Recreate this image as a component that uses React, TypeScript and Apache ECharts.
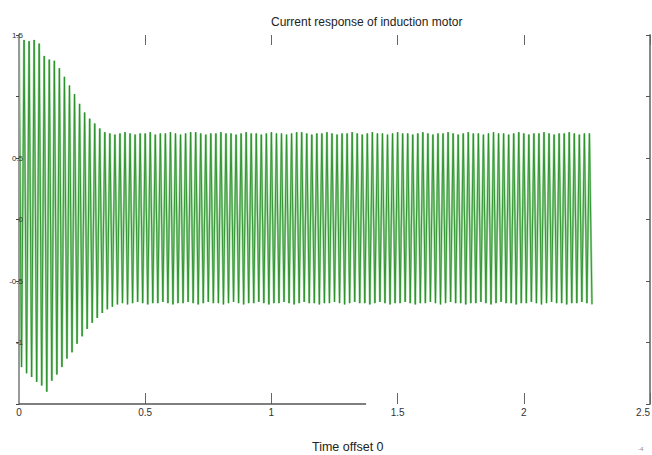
import React, { useEffect, useRef } from "react";
import * as echarts from "echarts";

// Current waveform: 50 Hz supply, one positive peak and one negative peak per cycle
const CYCLE = 0.02; // s
const upperPeaks: number[] = [
  1.5, 1.46, 1.45, 1.46, 1.43, 1.33, 1.3, 1.29, 1.23, 1.16,
  1.09, 1.02, 0.94, 0.87, 0.82, 0.78, 0.74, 0.71, 0.7, 0.69,
  0.7, 0.71, 0.7, 0.69, 0.7, 0.7, 0.71, 0.69, 0.7, 0.7,
  0.71, 0.7, 0.69, 0.7, 0.71, 0.71, 0.7, 0.69, 0.7, 0.7,
  0.71, 0.7, 0.7, 0.69, 0.7, 0.71, 0.7, 0.7, 0.69, 0.7,
  0.71, 0.7, 0.7, 0.69, 0.7, 0.71, 0.71, 0.7, 0.69, 0.7,
  0.7, 0.71, 0.7, 0.69, 0.7, 0.7, 0.71, 0.7, 0.69, 0.7,
  0.71, 0.7, 0.7, 0.69, 0.7, 0.71, 0.7, 0.7, 0.69, 0.7,
  0.71, 0.7, 0.69, 0.7, 0.7, 0.71, 0.7, 0.69, 0.7, 0.71,
  0.7, 0.7, 0.69, 0.7, 0.71, 0.7, 0.7, 0.69, 0.7, 0.71,
  0.7, 0.69, 0.7, 0.7, 0.71, 0.7, 0.69, 0.7, 0.7, 0.71,
  0.7, 0.69, 0.7, 0.7,
];
const lowerPeaks: number[] = [
  -1.2, -1.25, -1.28, -1.32, -1.35, -1.4, -1.31, -1.26, -1.2, -1.13,
  -1.08, -1.01, -0.95, -0.89, -0.84, -0.8, -0.76, -0.73, -0.71, -0.69,
  -0.68, -0.69, -0.68, -0.67, -0.68, -0.69, -0.68, -0.68, -0.67, -0.68,
  -0.69, -0.68, -0.68, -0.67, -0.68, -0.69, -0.68, -0.67, -0.68, -0.68,
  -0.69, -0.68, -0.67, -0.68, -0.69, -0.68, -0.68, -0.67, -0.68, -0.69,
  -0.68, -0.68, -0.67, -0.68, -0.69, -0.68, -0.67, -0.68, -0.68, -0.69,
  -0.68, -0.68, -0.67, -0.68, -0.69, -0.68, -0.67, -0.68, -0.68, -0.69,
  -0.68, -0.67, -0.68, -0.69, -0.68, -0.68, -0.67, -0.68, -0.69, -0.68,
  -0.68, -0.67, -0.68, -0.69, -0.68, -0.67, -0.68, -0.68, -0.69, -0.68,
  -0.68, -0.67, -0.68, -0.69, -0.68, -0.67, -0.68, -0.68, -0.69, -0.68,
  -0.68, -0.67, -0.68, -0.69, -0.68, -0.67, -0.68, -0.68, -0.69, -0.68,
  -0.68, -0.67, -0.68, -0.69,
];
const xTicks: number[] = [0, 0.5, 1, 1.5, 2, 2.5];
const yTicks: number[] = [-1.5, -1, -0.5, 0, 0.5, 1, 1.5];
const hiddenYLabels: number[] = [-1.5, 1];
const titleText = "Current response of induction motor";
const xLabelText = "Time offset 0";

export default function App() {
  const ref = useRef<HTMLDivElement>(null);
  useEffect(() => {
    if (!ref.current) return;
    const chart = echarts.init(ref.current, undefined, { renderer: "svg" });
    const data: number[][] = [];
    for (let k = 0; k < upperPeaks.length; k++) {
      data.push([k * CYCLE, upperPeaks[k]]);
      if (k < lowerPeaks.length) data.push([k * CYCLE + CYCLE / 2, lowerPeaks[k]]);
    }
    const font = "Liberation Sans, Arial, sans-serif";
    const texts = [
      {
        type: "text",
        left: 312,
        top: 440,
        style: { text: xLabelText, fill: "#222", font: "12.5px Liberation Sans, Arial, sans-serif" },
      },
      {
        type: "text",
        left: 638,
        top: 446,
        style: { text: "-4", fill: "#888", font: "6px Liberation Sans, Arial, sans-serif" },
      },
    ];
    chart.setOption({
      animation: false,
      backgroundColor: "#ffffff",
      title: {
        text: titleText,
        left: 266,
        top: 11,
        textStyle: { fontSize: 12, fontWeight: "normal", color: "#222", fontFamily: font },
      },
      grid: { left: 19, right: 2, top: 35, bottom: 51, containLabel: false, outerBoundsMode: "none" },
      xAxis: [
        {
          type: "value",
          min: xTicks[0],
          max: xTicks[xTicks.length - 1],
          interval: 0.5,
          position: "bottom",
          axisLine: { show: false, onZero: false },
          axisTick: { show: true, inside: true, length: 11, lineStyle: { color: "#666", width: 1 } },
          axisLabel: { fontSize: 10, color: "#333", margin: 3, fontFamily: font, alignMaxLabel: "right" },
          splitLine: { show: false },
        },
        {
          type: "value",
          min: xTicks[0],
          max: xTicks[xTicks.length - 1],
          interval: 0.5,
          position: "top",
          axisLine: { show: false, onZero: false },
          axisTick: { show: true, inside: true, length: 10, lineStyle: { color: "#666", width: 1 } },
          axisLabel: { show: false },
          splitLine: { show: false },
        },
      ],
      yAxis: [
        {
          type: "value",
          min: yTicks[0],
          max: yTicks[yTicks.length - 1],
          interval: 0.5,
          position: "left",
          z: 6,
          axisLine: { show: true, onZero: false, lineStyle: { color: "#999", width: 2 } },
          axisTick: { show: true, inside: false, length: 3, lineStyle: { color: "#444" } },
          axisLabel: {
            fontSize: 8,
            color: "#333",
            margin: -4,
            fontFamily: font,
            formatter: (v: number) => (hiddenYLabels.indexOf(v) >= 0 ? "" : String(v)),
          },
          splitLine: { show: false },
        },
        {
          type: "value",
          min: yTicks[0],
          max: yTicks[yTicks.length - 1],
          interval: 0.5,
          position: "right",
          axisLine: { show: true, onZero: false, lineStyle: { color: "#888", width: 2 } },
          axisTick: { show: true, inside: true, length: 4, lineStyle: { color: "#555" } },
          axisLabel: { show: false },
          splitLine: { show: false },
        },
      ],
      series: [
        {
          type: "line",
          data,
          xAxisIndex: 0,
          yAxisIndex: 0,
          showSymbol: false,
          symbol: "none",
          lineStyle: { color: "#9ad49a", width: 2.2 },
          z: 3,
        },
        {
          type: "line",
          data,
          xAxisIndex: 0,
          yAxisIndex: 0,
          showSymbol: false,
          symbol: "none",
          lineStyle: { color: "#2a8f2a", width: 0.9 },
          z: 4,
        },
      ],
      graphic: texts,
    });
    const p0 = chart.convertToPixel({ xAxisIndex: 0, yAxisIndex: 0 }, [0, -1.5]) as number[];
    const p1 = chart.convertToPixel({ xAxisIndex: 0, yAxisIndex: 0 }, [1.375, -1.5]) as number[];
    chart.setOption({
      graphic: [
        ...texts,
        {
          type: "line",
          shape: { x1: p0[0], y1: p0[1], x2: p1[0], y2: p1[1] },
          style: { stroke: "#555", lineWidth: 1.5 },
          z: 10,
        },
      ],
    });
    return () => chart.dispose();
  }, []);
  return (
    <div
      ref={ref}
      style={{ position: "fixed", left: 0, top: 0, width: 652, height: 455 }}
    />
  );
}
